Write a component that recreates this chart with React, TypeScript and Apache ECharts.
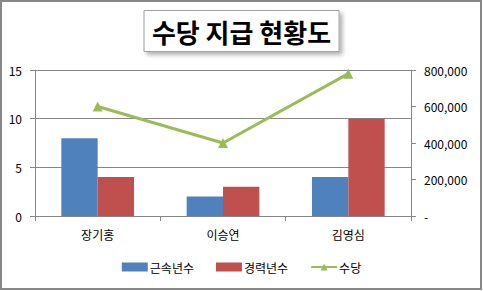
import React, { useEffect, useRef } from "react";
import * as echarts from "echarts";

const categories = ["장기홍", "이승연", "김영심"];
const tenureYears = [8, 2, 4];
const careerYears = [4, 3, 10];
const allowance = [600000, 400000, 780000];
const leftTicks = { min: 0, max: 15, interval: 5 };
const rightTicks = { min: 0, max: 800000, interval: 200000 };

const FONT = "'Noto Sans CJK KR', 'Noto Sans', sans-serif";
const AXIS = "#868686";

export default function App() {
  const ref = useRef<HTMLDivElement>(null);
  useEffect(() => {
    document.body.style.margin = "0";
    const chart = echarts.init(ref.current!, null, { renderer: "svg" });
    chart.setOption({
      animation: false,
      backgroundColor: "#ffffff",
      textStyle: { fontFamily: FONT },
      title: {
        text: "수당 지급 현황도",
        left: "center",
        top: 10,
        padding: [6, 8, 6, 8],
        borderColor: "#a0a0a0",
        borderWidth: 1,
        backgroundColor: "#ffffff",
        shadowBlur: 4,
        shadowColor: "rgba(0,0,0,0.3)",
        shadowOffsetX: 3,
        shadowOffsetY: 3,
        textStyle: { fontFamily: FONT, fontSize: 26, lineHeight: 30, fontWeight: "bold", color: "#000" },
      },
      graphic: [
        {
          type: "rect",
          shape: { x: 1, y: 1, width: 480, height: 288 },
          style: { fill: "none", stroke: "#878787", lineWidth: 2 },
          silent: true,
          z: -1,
        },
      ],
      legend: {
        bottom: 13,
        left: "center",
        itemGap: 22,
        itemWidth: 26,
        itemHeight: 9,
        textStyle: { fontFamily: FONT, fontSize: 12, color: "#000", padding: [0, 0, 0, -3] },
        data: [
          { name: "근속년수", icon: "rect" },
          { name: "경력년수", icon: "rect" },
          { name: "수당" },
        ],
      },
      grid: { left: 35, right: 72, top: 70, bottom: 75 },
      xAxis: {
        type: "category",
        data: categories,
        boundaryGap: true,
        axisLine: { lineStyle: { color: AXIS, width: 1 } },
        axisTick: { show: true, length: 5, lineStyle: { color: AXIS } },
        axisLabel: { color: "#000", fontSize: 12, margin: 12, fontFamily: FONT },
      },
      yAxis: [
        {
          type: "value",
          ...leftTicks,
          axisLine: { show: true, lineStyle: { color: AXIS } },
          axisTick: { show: true, length: 5, lineStyle: { color: AXIS } },
          splitLine: { show: true, lineStyle: { color: AXIS, width: 1 } },
          axisLabel: { color: "#000", fontSize: 12, margin: 13, fontFamily: FONT },
        },
        {
          type: "value",
          ...rightTicks,
          position: "right",
          axisLine: { show: true, lineStyle: { color: AXIS } },
          axisTick: { show: true, length: 5, lineStyle: { color: AXIS } },
          splitLine: { show: false },
          axisLabel: {
            color: "#000",
            fontSize: 12,
            margin: 13,
            fontFamily: FONT,
            formatter: (v: number) => (v === 0 ? "-" : v.toLocaleString("en-US")),
          },
        },
      ],
      series: [
        {
          name: "근속년수",
          type: "bar",
          data: tenureYears,
          barGap: "0%",
          barCategoryGap: "42%",
          itemStyle: { color: "#4F81BD" },
        },
        {
          name: "경력년수",
          type: "bar",
          data: careerYears,
          barGap: "0%",
          barCategoryGap: "42%",
          itemStyle: { color: "#C0504D" },
        },
        {
          name: "수당",
          type: "line",
          yAxisIndex: 1,
          data: allowance,
          symbol: "triangle",
          symbolSize: 10,
          lineStyle: { color: "#9BBB59", width: 3 },
          itemStyle: { color: "#9BBB59" },
          z: 5,
        },
      ],
    });
    return () => chart.dispose();
  }, []);
  return <div ref={ref} style={{ width: 483, height: 291 }} />;
}
